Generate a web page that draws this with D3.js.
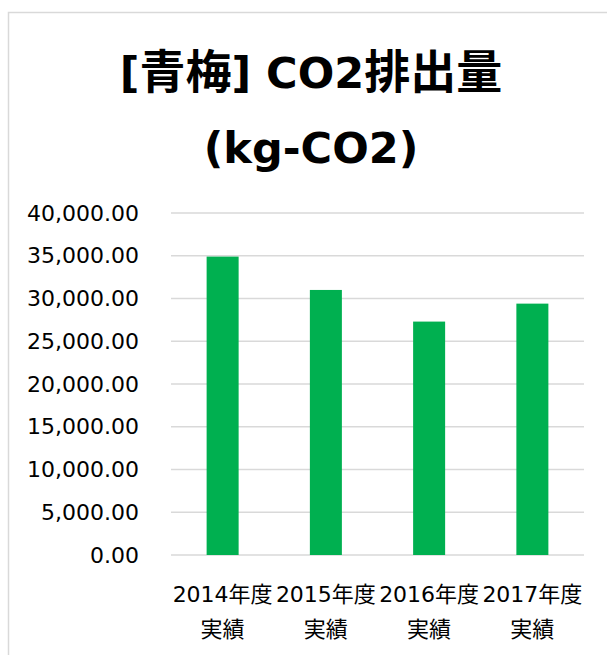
<!DOCTYPE html>
<html>
<head>
<meta charset="utf-8">
<script src="https://cdn.jsdelivr.net/npm/d3@7"></script>
<style>
  body { margin: 0; background: #fff; }
  svg text { fill: #000; }
</style>
</head>
<body>
<figure id="chart" style="margin:0"></figure>
<script>
// chart data
const titleLines = ["[青梅] CO2排出量", "(kg-CO2)"];
const categories = ["2014年度実績", "2015年度実績", "2016年度実績", "2017年度実績"];
const emissions = [34900, 31000, 27300, 29400];
const yTicks = [0, 5000, 10000, 15000, 20000, 25000, 30000, 35000, 40000];

const W = 607, H = 655;
const plot = { left: 171, right: 584, top: 213, bottom: 555 };

const svg = d3.select("#chart")
    .append("svg")
    .attr("width", W)
    .attr("height", H);

// outer frame (runs off the right and bottom edges)
svg.append("rect")
    .attr("x", 8.5).attr("y", 12.5)
    .attr("width", 640).attr("height", 700)
    .attr("fill", "#fff")
    .attr("stroke", "#d9d9d9")
    .attr("stroke-width", 1.5);

// title: CJK runs a little larger than the latin ones
const cjk = /[\u3000-\u9fff]/;
const title = svg.append("g")
    .selectAll("text")
    .data(titleLines)
    .join("text")
    .attr("x", 311)
    .attr("y", (d, i) => 88 + i * 75)
    .attr("text-anchor", "middle")
    .attr("font-family", "'DejaVu Sans', 'Noto Sans CJK JP', sans-serif")
    .attr("font-weight", "bold")
    .attr("font-size", 43);
title.selectAll("tspan")
    .data(d => d.match(/[\u3000-\u9fff]+|[^\u3000-\u9fff]+/g))
    .join("tspan")
    .attr("font-family", d => cjk.test(d) ? "'Noto Sans CJK JP', sans-serif" : null)
    .attr("font-size", d => cjk.test(d) ? 46 : null)
    .text(d => d);

var x = d3.scaleBand()
    .domain(categories)
    .range([plot.left, plot.right])
    .paddingInner(0.69)
    .paddingOuter(0.345);

var y = d3.scaleLinear()
    .domain([0, 40000])
    .range([plot.bottom, plot.top]);

// gridlines
svg.append("g")
    .selectAll("line")
    .data(yTicks)
    .join("line")
    .attr("x1", plot.left)
    .attr("x2", plot.right)
    .attr("y1", d => y(d))
    .attr("y2", d => y(d))
    .attr("stroke", "#d9d9d9")
    .attr("stroke-width", 1.5);

// y axis labels
const yAxis = svg.append("g")
    .attr("transform", "translate(" + plot.left + ",0)")
    .call(d3.axisLeft(y).tickValues(yTicks).tickFormat(d3.format(",.2f")).tickSize(0).tickPadding(32));
yAxis.select(".domain").remove();
yAxis.selectAll("text")
    .attr("font-family", "'DejaVu Sans', Verdana, sans-serif")
    .attr("font-size", 22)
    .attr("fill", "#000");

// bars
svg.append("g")
    .selectAll("rect")
    .data(emissions)
    .join("rect")
    .attr("x", (d, i) => x(categories[i]))
    .attr("y", d => y(d))
    .attr("width", x.bandwidth())
    .attr("height", d => y(0) - y(d))
    .attr("fill", "#00b050");

// x axis labels, two lines each
const xLab = svg.append("g")
    .selectAll("text")
    .data(categories)
    .join("text")
    .attr("x", d => x(d) + x.bandwidth() / 2)
    .attr("y", 602)
    .attr("text-anchor", "middle")
    .attr("font-family", "'DejaVu Sans', 'Noto Sans CJK JP', sans-serif")
    .attr("font-size", 22);
xLab.append("tspan")
    .attr("x", d => x(d) + x.bandwidth() / 2)
    .text(d => d.slice(0, d.indexOf("度") + 1));
xLab.append("tspan")
    .attr("x", d => x(d) + x.bandwidth() / 2)
    .attr("dy", 35)
    .text(d => d.slice(d.indexOf("度") + 1));
</script>
</body>
</html>
